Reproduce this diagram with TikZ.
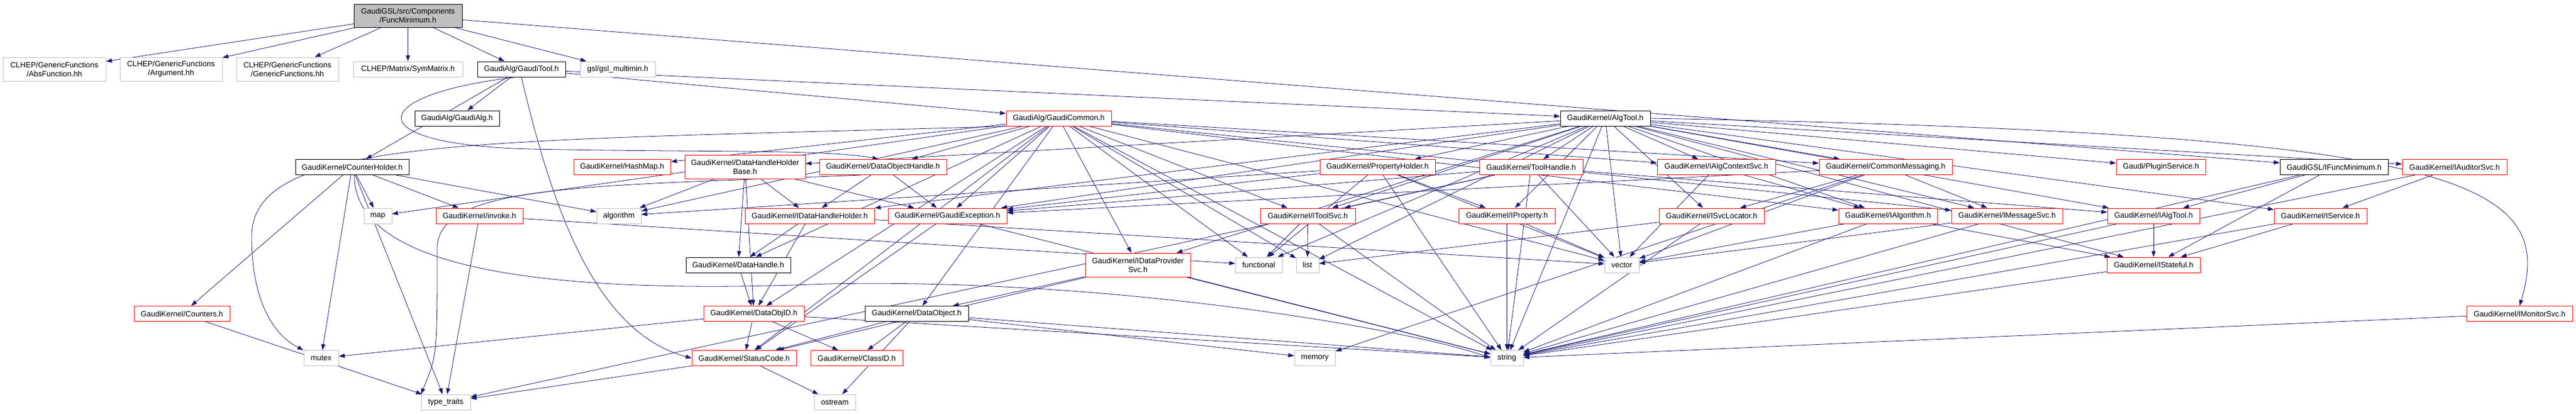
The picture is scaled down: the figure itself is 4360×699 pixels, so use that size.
\documentclass[tikz,border=0pt]{standalone}
\usepackage{fontspec}
\setmainfont{Liberation Sans}
\usetikzlibrary{arrows.meta,backgrounds}
\definecolor{edgec}{HTML}{191970}
\definecolor{redb}{HTML}{FF0000}
\definecolor{greyb}{HTML}{BFBFBF}
\tikzset{
 box/.style={draw, line width=1pt, fill=white, inner sep=0pt, minimum height=26pt, align=center, font=\fontsize{13}{15}\selectfont},
 redbox/.style={box, draw=redb},
 blackbox/.style={box, draw=black},
 greybox/.style={box, draw=greyb},
 rootbox/.style={box, draw=black, fill=greyb},
 tall/.style={minimum height=40pt},
 edge/.style={draw=edgec, line width=0.8pt, -{Triangle[length=10pt,width=7pt]}},
}
\begin{document}
\begin{tikzpicture}[x=1pt,y=-1pt]
\useasboundingbox (0,0) rectangle (4360,699);
% row 0
\node[rootbox,tall,minimum height=39pt,minimum width=183pt] (fm) at (690.5,26.5) {GaudiGSL/src/Components\\/FuncMinimum.h};
% row 1
\node[greybox,tall,minimum width=174pt] (absf) at (92,117) {CLHEP/GenericFunctions\\/AbsFunction.hh};
\node[greybox,tall,minimum width=173pt] (arg) at (289.5,117) {CLHEP/GenericFunctions\\/Argument.hh};
\node[greybox,tall,minimum width=173pt] (genf) at (486.5,117) {CLHEP/GenericFunctions\\/GenericFunctions.hh};
\node[greybox,minimum width=185pt] (sym) at (690.5,117) {CLHEP/Matrix/SymMatrix.h};
\node[blackbox,minimum width=149pt] (gtool) at (882.5,117) {GaudiAlg/GaudiTool.h};
\node[greybox,minimum width=127pt] (gsl) at (1045.5,117) {gsl/gsl\_multimin.h};
% row 2
\node[blackbox,minimum width=143pt] (galg) at (773.5,200) {GaudiAlg/GaudiAlg.h};
\node[redbox,minimum width=178pt] (gcommon) at (1792,200) {GaudiAlg/GaudiCommon.h};
\node[blackbox,minimum width=152pt] (algtool) at (2717,200) {GaudiKernel/AlgTool.h};
% row 3
\node[blackbox,minimum width=192pt] (cholder) at (596,282.5) {GaudiKernel/CounterHolder.h};
\node[redbox,minimum width=164pt] (hashmap) at (1053,282.5) {GaudiKernel/HashMap.h};
\node[redbox,tall,minimum width=204pt] (dhhb) at (1261,282.5) {GaudiKernel/DataHandleHolder\\Base.h};
\node[redbox,minimum width=215pt] (doh) at (1494.5,282.5) {GaudiKernel/DataObjectHandle.h};
\node[redbox,minimum width=195pt] (pholder) at (2331.5,282.5) {GaudiKernel/PropertyHolder.h};
\node[redbox,minimum width=175pt] (thandle) at (2591.5,282.5) {GaudiKernel/ToolHandle.h};
\node[redbox,minimum width=200pt] (iacs) at (2905,282.5) {GaudiKernel/IAlgContextSvc.h};
\node[redbox,minimum width=225pt] (cmsg) at (3191.5,282.5) {GaudiKernel/CommonMessaging.h};
\node[redbox,minimum width=151pt] (plugin) at (3657.5,282.5) {Gaudi/PluginService.h};
\node[blackbox,minimum width=183pt] (ifm) at (3950.5,282.5) {GaudiGSL/IFuncMinimum.h};
\node[redbox,minimum width=177pt] (iaud) at (4154.5,282.5) {GaudiKernel/IAuditorSvc.h};
% row 4
\node[greybox,minimum width=47pt] (map) at (639.5,365) {map};
\node[redbox,minimum width=147pt] (invoke) at (811.5,365) {GaudiKernel/invoke.h};
\node[greybox,minimum width=75pt] (algorithm) at (1047.5,365) {algorithm};
\node[redbox,minimum width=219pt] (idhh) at (1370.5,365) {GaudiKernel/IDataHandleHolder.h};
\node[redbox,minimum width=201pt] (gexc) at (1603.5,365) {GaudiKernel/GaudiException.h};
\node[redbox,minimum width=161pt] (itoolsvc) at (2213.5,365) {GaudiKernel/IToolSvc.h};
\node[redbox,minimum width=163pt] (iprop) at (2550.5,365) {GaudiKernel/IProperty.h};
\node[redbox,minimum width=178pt] (isvcloc) at (2897,365) {GaudiKernel/ISvcLocator.h};
\node[redbox,minimum width=167pt] (ialgo) at (3195.5,365) {GaudiKernel/IAlgorithm.h};
\node[redbox,minimum width=188pt] (imsg) at (3397,365) {GaudiKernel/IMessageSvc.h};
\node[redbox,minimum width=156pt] (ialgtool) at (3645,365) {GaudiKernel/IAlgTool.h};
\node[redbox,minimum width=157pt] (iservice) at (3927.5,365) {GaudiKernel/IService.h};
% row 5
\node[blackbox,minimum width=177pt] (dh) at (1249.5,448) {GaudiKernel/DataHandle.h};
\node[redbox,tall,minimum width=178pt] (idps) at (1926,448) {GaudiKernel/IDataProvider\\Svc.h};
\node[greybox,minimum width=79pt] (functional) at (2130.5,448) {functional};
\node[greybox,minimum width=38pt] (list) at (2213,448) {list};
\node[greybox,minimum width=58pt] (vector) at (2745,448) {vector};
\node[redbox,minimum width=158pt] (istateful) at (3645,448) {GaudiKernel/IStateful.h};
% row 6
\node[redbox,minimum width=162pt] (counters) at (308,530.5) {GaudiKernel/Counters.h};
\node[redbox,minimum width=170pt] (dobjid) at (1276,530.5) {GaudiKernel/DataObjID.h};
\node[blackbox,minimum width=175pt] (dobj) at (1551.5,530.5) {GaudiKernel/DataObject.h};
\node[redbox,minimum width=179pt] (imon) at (4264.5,530.5) {GaudiKernel/IMonitorSvc.h};
% row 7
\node[greybox,minimum width=59pt] (mutex) at (543.5,605.5) {mutex};
\node[redbox,minimum width=177pt] (sc) at (1259.5,605.5) {GaudiKernel/StatusCode.h};
\node[redbox,minimum width=156pt] (classid) at (1450,605.5) {GaudiKernel/ClassID.h};
\node[greybox,minimum width=69pt] (memory) at (2225.5,605.5) {memory};
\node[greybox,minimum width=55pt] (string) at (2550.5,605.5) {string};
% row 8
\node[greybox,minimum width=83pt] (typetraits) at (754.5,680) {type\_traits};
\node[greybox,minimum width=70pt] (ostream) at (1413,680) {ostream};

\begin{pgfonlayer}{background}
\foreach \a/\b in {fm/absf, fm/arg, fm/genf, fm/sym, fm/gtool, fm/gsl, fm/ifm,
 gtool/galg, gtool/cholder, gtool/gcommon, gtool/algtool,
 cholder/counters, cholder/map, cholder/invoke, cholder/algorithm, cholder/mutex, cholder/typetraits,
 counters/typetraits, invoke/typetraits, invoke/functional,
 gcommon/map, gcommon/algorithm, gcommon/hashmap, gcommon/doh, gcommon/dh, gcommon/gexc, gcommon/idps,
 gcommon/functional, gcommon/list, gcommon/vector, gcommon/string, gcommon/itoolsvc, gcommon/dobj, gcommon/sc,
 gcommon/iacs, gcommon/cmsg, gcommon/imsg, gcommon/ialgo, gcommon/dobjid,
 algtool/dhhb, algtool/idhh, algtool/gexc, algtool/itoolsvc, algtool/functional, algtool/list, algtool/pholder,
 algtool/thandle, algtool/iprop, algtool/vector, algtool/string, algtool/isvcloc, algtool/cmsg, algtool/ialgo,
 algtool/iacs, algtool/imsg, algtool/plugin, algtool/ialgtool, algtool/istateful, algtool/iservice, algtool/iaud,
 algtool/idps,
 pholder/iprop, pholder/string, pholder/vector, pholder/gexc, pholder/algorithm, pholder/functional,
 thandle/itoolsvc, thandle/string, thandle/vector, thandle/typetraits, thandle/ialgtool, thandle/gexc,
 iprop/string, iprop/vector, itoolsvc/list, itoolsvc/string, itoolsvc/functional,
 iacs/ialgo, iacs/vector, cmsg/isvcloc, cmsg/imsg, cmsg/memory, cmsg/gexc, cmsg/vector,
 isvcloc/list, isvcloc/string, ialgo/istateful, ialgo/string, ialgo/vector, imsg/string, imsg/vector,
 ialgtool/istateful, ialgtool/string, istateful/string, iservice/istateful, iservice/string,
 iaud/iservice, iaud/string, imon/string, ifm/ialgtool, ifm/string, ifm/istateful,
 dhhb/idhh, dhhb/dh, dhhb/dobjid, dhhb/gexc, dhhb/algorithm, doh/idhh, doh/gexc,
 idhh/dh, idhh/dobjid, idhh/vector, gexc/sc, gexc/string, dh/dobjid,
 dobjid/sc, dobjid/classid, dobjid/mutex, dobjid/string,
 dobj/sc, dobj/classid, dobj/ostream, dobj/string, dobj/memory,
 sc/ostream, sc/typetraits, idps/dobj, idps/string, idps/sc}
 \draw[edge] (\a) -- (\b);
% curved connectors
\draw[edge] (algtool.east) .. controls (4150,225) and (4330,300) .. (imon.north);
\draw[edge] (gcommon.south west) .. controls (800,240) and (426,230) .. (426,400) .. controls (426,520) and (470,570) .. (mutex.north west);
\draw[edge] (gtool.235) .. controls (620,160) and (600,245) .. (900,252) .. controls (1200,258) and (1400,252) .. (doh.120);
\draw[edge] (gtool.south) .. controls (930,330) and (1000,560) .. (sc.west);
\draw[edge] (cholder.285) .. controls (600,450) and (900,500) .. (1400,480) .. controls (1900,470) and (2400,560) .. (string.west);
\draw[edge] (doh.200) .. controls (1000,315) and (740,310) .. (740,420) .. controls (740,600) .. (typetraits.north west);
\end{pgfonlayer}
\end{tikzpicture}
\end{document}
